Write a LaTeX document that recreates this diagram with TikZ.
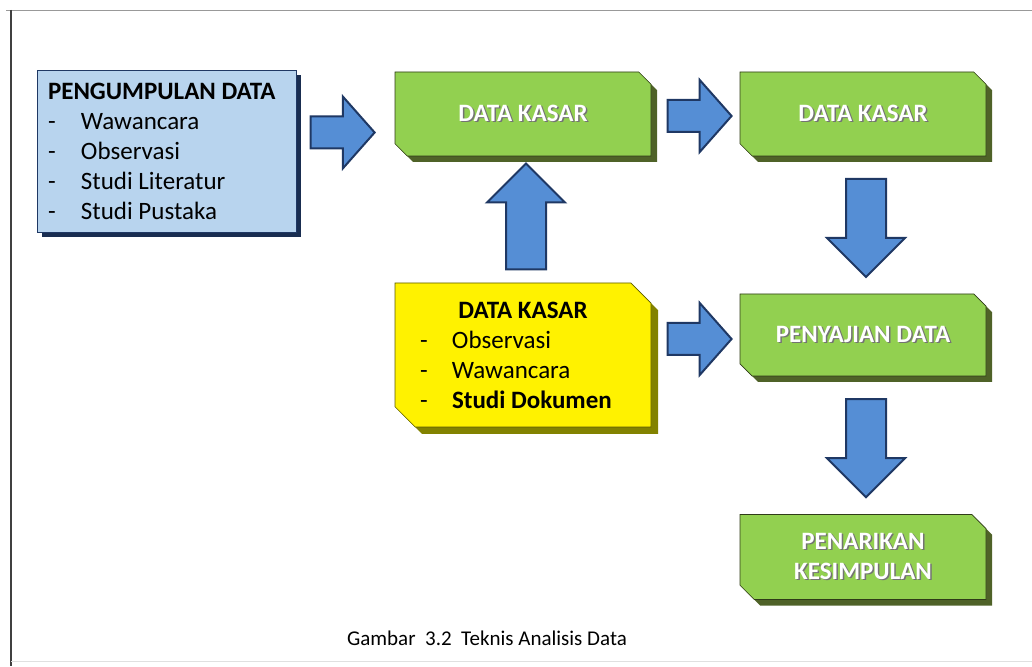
\documentclass[tikz,border=0pt]{standalone}
\usepackage{fontspec}
\setmainfont{Carlito}
\usepackage{tikz}
\usetikzlibrary{shapes.misc,shapes.arrows,shadows,calc}
\usepackage{xcolor}
\definecolor{hijau}{RGB}{146,208,80}
\definecolor{hijaugelap}{RGB}{79,98,40}
\definecolor{kuninggelap}{RGB}{130,130,0}
\definecolor{birumuda}{RGB}{184,212,238}
\definecolor{birugelap}{RGB}{31,56,100}
\definecolor{panah}{RGB}{85,142,213}
\newcommand{\bayang}[1]{\makebox[0pt][l]{\hspace{1.5pt}\raisebox{-1.5pt}{\textcolor{black!55}{#1}}}\textcolor{white}{#1}}

\begin{document}
\begin{tikzpicture}[x=1pt, y=1pt,
    kotakhijau/.style={chamfered rectangle, chamfered rectangle corners={north east, south west},
        chamfered rectangle xsep=11pt, fill=hijau, draw=hijaugelap!60!black, line width=0.6pt,
        general shadow={fill=hijaugelap, shadow xshift=6pt, shadow yshift=-6pt},
        minimum width=246pt, minimum height=84pt, inner sep=0pt, align=center,
        font=\fontsize{25}{30}\selectfont\bfseries},
    panahkanan/.style={single arrow, fill=panah, draw=birugelap, line width=2pt,
        inner xsep=0pt, inner ysep=15pt, minimum height=64pt,
        single arrow head extend=20pt, single arrow tip angle=97},
    panahtegak/.style={single arrow, fill=panah, draw=birugelap, line width=2pt,
        inner xsep=0pt, inner ysep=19pt, minimum height=98pt,
        single arrow head extend=19pt, single arrow tip angle=90}]
  \useasboundingbox (0,0) rectangle (1032,666);
  \draw[black!40] (6,656) -- (1032,656);
  \draw[black!75, line width=2pt] (11,656) -- (11,0);
  \draw[black!12] (11,5) -- (1032,5);

  \node[rectangle, fill=birumuda, draw=birugelap, line width=0.8pt,
      general shadow={fill=birugelap!80!black, shadow xshift=5pt, shadow yshift=-5pt},
      minimum width=259pt, minimum height=162pt, inner xsep=11pt, text width=237pt, align=flush left,
      font=\fontsize{25}{30}\selectfont] (kumpul) at (166.5,515)
      {\textbf{PENGUMPULAN DATA}\\
       \makebox[33pt][l]{-}Wawancara\\
       \makebox[33pt][l]{-}Observasi\\
       \makebox[33pt][l]{-}Studi Literatur\\
       \makebox[33pt][l]{-}Studi Pustaka};

  \node[kotakhijau, minimum width=256pt] (kasarsatu) at (523,552) {\bayang{DATA KASAR}};
  \node[kotakhijau] (kasardua) at (863,552) {\bayang{DATA KASAR}};
  \node[kotakhijau, minimum height=82pt] (sajian) at (863,331) {\bayang{PENYAJIAN DATA}};
  \node[kotakhijau, minimum height=85pt] (tarik) at (863,109) {\bayang{PENARIKAN}\\ \bayang{KESIMPULAN}};

  \node[chamfered rectangle, chamfered rectangle corners={north east, south west},
      chamfered rectangle xsep=17pt, fill=yellow, draw=kuninggelap!70!black, line width=0.6pt,
      general shadow={fill=kuninggelap, shadow xshift=7pt, shadow yshift=-7pt},
      minimum width=256pt, minimum height=144pt, inner sep=0pt, text width=206pt, align=flush left,
      font=\fontsize{25}{30}\selectfont] (reduksi) at (523,311)
      {\makebox[\linewidth][c]{\textbf{DATA KASAR}}\\
       \makebox[32pt][l]{-}Observasi\\
       \makebox[32pt][l]{-}Wawancara\\
       \makebox[32pt][l]{-}\textbf{Studi Dokumen}};

  \node[panahkanan] (p1) at ($(kumpul.east)!0.5!(kasarsatu.west)+(-10,0)$) {};
  \node[panahkanan] (p2) at ($(kasarsatu.east)!0.5!(kasardua.west)+(-3,-2)$) {};
  \node[panahkanan] (p3) at ($(reduksi.east)!0.5!(sajian.west)+(-3,6)$) {};
  \node[panahtegak, minimum height=106pt, rotate=90] (p4) at ($(reduksi.north)!0.5!(kasarsatu.south)+(3,-7)$) {};
  \node[panahtegak, rotate=-90] (p5) at ($(kasardua.south)!0.5!(sajian.north)+(3,7)$) {};
  \node[panahtegak, rotate=-90] (p6) at ($(sajian.south)!0.5!(tarik.north)+(3,7)$) {};

  \node[font=\fontsize{21}{25}\selectfont] (judul) at (487,28) {Gambar\ \ 3.2\ \ Teknis Analisis Data};
\end{tikzpicture}
\end{document}
